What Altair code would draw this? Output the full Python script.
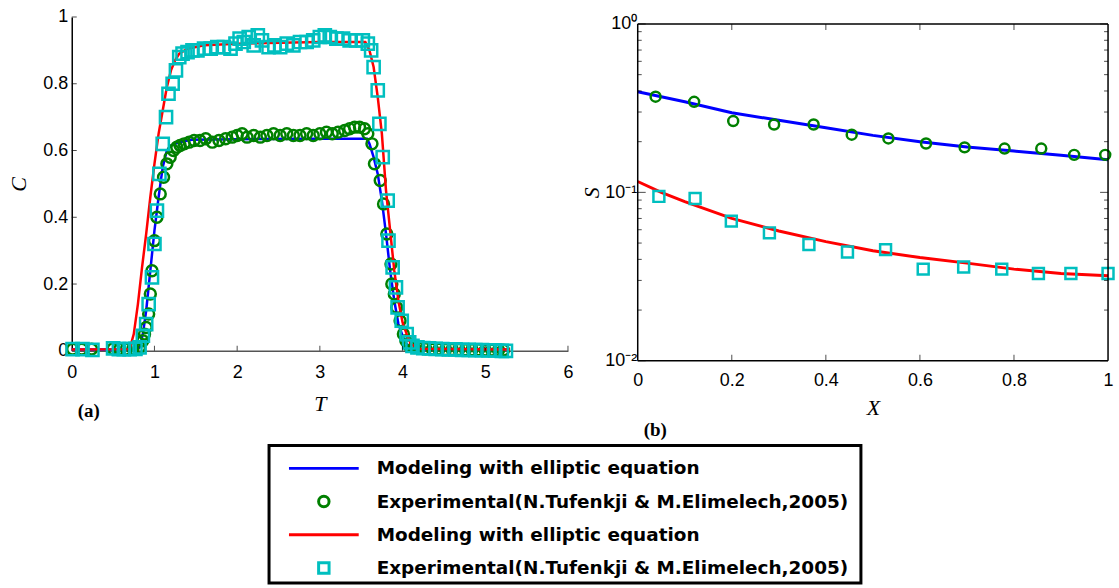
import altair as alt
import pandas as pd

# ---------------- Panel (a) data ----------------
blue_T = [0.0, 0.75, 0.82, 0.86, 0.9, 0.95, 1.0, 1.05, 1.1, 1.15, 1.2, 1.3, 1.45, 2.0, 3.0, 3.57,
          3.6, 3.65, 3.7, 3.75, 3.8, 3.85, 3.9, 3.95, 4.0, 4.05, 4.1, 4.2, 5.3]
blue_C = [0.004, 0.004, 0.01, 0.05, 0.12, 0.24, 0.36, 0.46, 0.55, 0.6, 0.615, 0.625, 0.632, 0.634, 0.635, 0.635,
          0.62, 0.58, 0.53, 0.45, 0.35, 0.24, 0.15, 0.08, 0.045, 0.02, 0.008, 0.004, 0.004]

red_T = [0.0, 0.7, 0.75, 0.8, 0.85, 0.9, 0.95, 1.0, 1.05, 1.1, 1.15, 1.2, 1.25, 1.3, 1.4, 1.6, 2.0, 3.0, 3.55,
         3.6, 3.65, 3.7, 3.75, 3.8, 3.85, 3.9, 3.95, 4.0, 4.05, 4.1, 4.2, 5.3]
red_C = [0.004, 0.005, 0.05, 0.14, 0.25, 0.35, 0.46, 0.56, 0.65, 0.72, 0.79, 0.84, 0.87, 0.89, 0.905, 0.915, 0.92, 0.925, 0.925,
         0.9, 0.85, 0.76, 0.65, 0.48, 0.36, 0.24, 0.15, 0.085, 0.05, 0.02, 0.006, 0.004]

circ_T = [0.01, 0.12, 0.24, 0.5, 0.58, 0.66, 0.74, 0.82, 0.86, 0.88, 0.9, 0.93, 0.95, 0.97, 1.0, 1.03, 1.07,
          1.11, 1.15, 1.19, 1.23, 1.27, 1.31, 1.36, 1.42, 1.48, 1.55, 1.62, 1.7, 1.78, 1.86, 1.94, 2.0,
          2.06, 2.12, 2.2, 2.28, 2.36, 2.44, 2.52, 2.6, 2.68, 2.76, 2.84, 2.92, 3.0, 3.08, 3.15, 3.22,
          3.3, 3.36, 3.42, 3.48, 3.54, 3.58, 3.63, 3.66, 3.73, 3.77, 3.81, 3.86, 3.87, 3.9, 3.93, 3.97,
          4.01, 4.04, 4.08, 4.14, 4.2, 4.28, 4.36, 4.44, 4.52, 4.6, 4.68, 4.76, 4.84, 4.92, 5.0, 5.08,
          5.16, 5.22]
circ_C = [0.005, 0.005, 0.005, 0.006, 0.005, 0.005, 0.006, 0.01, 0.03, 0.05, 0.07, 0.11, 0.17, 0.24, 0.33, 0.4, 0.47,
          0.52, 0.56, 0.58, 0.6, 0.61, 0.615, 0.62, 0.625, 0.63, 0.63, 0.635, 0.625, 0.63, 0.635, 0.64, 0.645,
          0.65, 0.64, 0.645, 0.64, 0.645, 0.65, 0.645, 0.65, 0.645, 0.645, 0.65, 0.645, 0.65, 0.655, 0.65, 0.655,
          0.66, 0.665, 0.67, 0.67, 0.665, 0.65, 0.62, 0.56, 0.51, 0.44, 0.35, 0.26, 0.2, 0.17, 0.13, 0.09,
          0.05, 0.03, 0.015, 0.01, 0.008, 0.006, 0.005, 0.005, 0.004, 0.004, 0.004, 0.003, 0.003, 0.003, 0.002, 0.002,
          0.002, 0.002]

sq_T = [0.01, 0.13, 0.25, 0.5, 0.57, 0.63, 0.7, 0.77, 0.82, 0.86, 0.9, 0.93, 0.97, 1.0, 1.03, 1.06, 1.1,
        1.14, 1.17, 1.22, 1.26, 1.3, 1.34, 1.4, 1.46, 1.52, 1.6, 1.68, 1.76, 1.84, 1.92, 1.98, 2.03,
        2.08, 2.14, 2.2, 2.25, 2.3, 2.38, 2.45, 2.52, 2.6, 2.68, 2.76, 2.84, 2.92, 3.0, 3.06, 3.12,
        3.2, 3.28, 3.36, 3.44, 3.52, 3.58, 3.62, 3.65, 3.7, 3.72, 3.76, 3.82, 3.83, 3.88, 3.92, 3.94,
        3.99, 4.05, 4.08, 4.12, 4.18, 4.25, 4.32, 4.4, 4.48, 4.56, 4.64, 4.72, 4.8, 4.88, 4.96, 5.04,
        5.12, 5.2, 5.25]
sq_C = [0.005, 0.005, 0.003, 0.007, 0.005, 0.005, 0.005, 0.006, 0.01, 0.045, 0.08, 0.14, 0.22, 0.32, 0.42, 0.53, 0.62,
        0.7, 0.77, 0.8, 0.84, 0.88, 0.89, 0.895, 0.9, 0.9, 0.905, 0.905, 0.91, 0.91, 0.905, 0.92, 0.935,
        0.925, 0.94, 0.915, 0.945, 0.93, 0.91, 0.915, 0.91, 0.92, 0.915, 0.925, 0.925, 0.93, 0.94, 0.945, 0.94,
        0.935, 0.935, 0.93, 0.93, 0.93, 0.92, 0.9, 0.85, 0.78, 0.68, 0.58, 0.45, 0.33, 0.25, 0.19, 0.13,
        0.09, 0.05, 0.025, 0.015, 0.01, 0.008, 0.007, 0.006, 0.005, 0.004, 0.004, 0.003, 0.003, 0.002, 0.002, 0.001,
        0.001, 0.0, 0.0]

a_xticks = [0, 1, 2, 3, 4, 5, 6]
a_yticks = [0, 0.2, 0.4, 0.6, 0.8, 1.0]

# ---------------- Panel (b) data ----------------
b_blue_X = [0.0, 0.1, 0.2, 0.3, 0.4, 0.5, 0.6, 0.7, 0.8, 0.9, 1.0]
b_blue_S = [0.396, 0.345, 0.297, 0.268, 0.242, 0.218, 0.200, 0.186, 0.176, 0.166, 0.156]
b_red_X = [0.0, 0.05, 0.1, 0.2, 0.3, 0.4, 0.5, 0.6, 0.7, 0.8, 0.9, 1.0]
b_red_S = [0.116, 0.100, 0.088, 0.070, 0.059, 0.051, 0.045, 0.041, 0.038, 0.035, 0.033, 0.032]
b_circ_X = [0.038, 0.12, 0.203, 0.29, 0.374, 0.455, 0.533, 0.613, 0.695, 0.78, 0.858, 0.928, 0.994]
b_circ_S = [0.37, 0.345, 0.265, 0.253, 0.253, 0.22, 0.209, 0.195, 0.185, 0.182, 0.182, 0.167, 0.167]
b_sq_X = [0.045, 0.122, 0.199, 0.28, 0.364, 0.446, 0.527, 0.607, 0.693, 0.774, 0.852, 0.921, 1.0]
b_sq_S = [0.0946, 0.092, 0.0675, 0.0575, 0.049, 0.0442, 0.0457, 0.035, 0.036, 0.035, 0.033, 0.033, 0.033]

b_xticks = [0, 0.2, 0.4, 0.6, 0.8, 1.0]
b_inner_xticks = [0.2, 0.4, 0.6, 0.8]
b_yticks_major = [0.01, 0.1, 1.0]
b_yticks_minor = [0.02, 0.03, 0.04, 0.05, 0.06, 0.07, 0.08, 0.09,
                  0.2, 0.3, 0.4, 0.5, 0.6, 0.7, 0.8, 0.9]
b_xdomain = [0, 1]
b_ydomain = [0.01, 1.0]

# ---------------- Legend data ----------------
legend_labels = ["Modeling with elliptic equation",
                 "Experimental(N.Tufenkji & M.Elimelech,2005)",
                 "Modeling with elliptic equation",
                 "Experimental(N.Tufenkji & M.Elimelech,2005)"]
legend_kind = ["line", "point", "line", "point"]
legend_colors = ["#0000ff", "#008000", "#ff0000", "#00bfbf"]
legend_shapes = ["circle", "circle", "circle", "square"]

BLUE, RED, GREEN, CYAN = "#0000ff", "#ff0000", "#008000", "#00bfbf"
TICKFONT = "Liberation Sans Narrow, Liberation Sans, Arial"
TITLEFONT = "Liberation Serif, Times New Roman, serif"

# ---------------- Panel (a) ----------------
AW, AH = 498, 335
xa = alt.Scale(domain=[0, 6], nice=False, padding=0)
ya = alt.Scale(domain=[0, 1], nice=False, padding=0)

xa_axis = alt.Axis(values=a_xticks, format="d", grid=False, ticks=False, domainColor="#555555", domainWidth=1.5,
                   labelFlush=False, labelFont=TICKFONT, labelFontSize=18, labelColor="#000", labelPadding=13,
                   title="T", titleFont=TITLEFONT, titleFontStyle="italic", titleFontWeight="normal",
                   titleFontSize=22, titlePadding=12, titleColor="#000")
ya_axis = alt.Axis(values=a_yticks, grid=False, ticks=False, domainColor="#000", domainWidth=1.5,
                   labelFlush=False,
                   labelExpr="datum.value == 0 ? '0' : datum.value == 1 ? '1' : format(datum.value, '.1f')",
                   labelFont=TICKFONT, labelFontSize=18, labelColor="#000", labelPadding=4,
                   title="C", titleFont=TITLEFONT, titleFontStyle="italic", titleFontWeight="normal",
                   titleFontSize=22, titlePadding=12, titleColor="#000")

df_ab = pd.DataFrame({"T": blue_T, "C": blue_C})
df_ar = pd.DataFrame({"T": red_T, "C": red_C})
df_ac = pd.DataFrame({"T": circ_T, "C": circ_C})
df_as = pd.DataFrame({"T": sq_T, "C": sq_C})

a_blue = alt.Chart(df_ab).mark_line(color=BLUE, strokeWidth=2.5).encode(
    x=alt.X("T:Q", scale=xa, axis=xa_axis), y=alt.Y("C:Q", scale=ya, axis=ya_axis))
a_circ = alt.Chart(df_ac).mark_point(shape="circle", color=GREEN, filled=False, strokeWidth=2.5, size=120, opacity=1).encode(
    x=alt.X("T:Q", scale=xa), y=alt.Y("C:Q", scale=ya))
a_red = alt.Chart(df_ar).mark_line(color=RED, strokeWidth=2.5).encode(
    x=alt.X("T:Q", scale=xa), y=alt.Y("C:Q", scale=ya))
a_sq = alt.Chart(df_as).mark_point(shape="square", color=CYAN, filled=False, strokeWidth=2.5, size=150, opacity=1).encode(
    x=alt.X("T:Q", scale=xa), y=alt.Y("C:Q", scale=ya))
a_xt = alt.Chart(pd.DataFrame({"v": a_xticks[1:]})).mark_tick(orient="vertical", color="#000", size=5, thickness=1).encode(
    x=alt.X("v:Q", scale=xa), y=alt.value(AH - 2.5))
a_yt = alt.Chart(pd.DataFrame({"v": a_yticks[1:]})).mark_tick(orient="horizontal", color="#000", size=5, thickness=1).encode(
    y=alt.Y("v:Q", scale=ya), x=alt.value(2.5))
a_lab = alt.Chart(pd.DataFrame({"t": ["(a)"]})).mark_text(
    font=TITLEFONT, fontSize=19, fontWeight="bold", align="left", baseline="middle", color="#000").encode(
    x=alt.value(6), y=alt.value(AH + 60), text="t:N")

panel_a = alt.layer(a_blue, a_circ, a_red, a_sq, a_xt, a_yt, a_lab).properties(
    width=AW, height=AH, view=alt.ViewBackground(stroke=None))

# ---------------- Panel (b) ----------------
BW, BH, BTOP = 472, 338, 7
BHT = BH + BTOP
xb = alt.Scale(domain=b_xdomain, nice=False, padding=0)
yb = alt.Scale(type="log", domain=b_ydomain, nice=False, padding=0, range=[BHT, BTOP])

xb_axis = alt.Axis(values=b_xticks, grid=False, ticks=False, domain=False, labelFlush=False,
                   labelFont=TICKFONT, labelFontSize=18, labelColor="#000", labelPadding=11,
                   labelExpr="datum.value == 0 ? '0' : datum.value == 1 ? '1' : format(datum.value, '.1f')",
                   title="X", titleFont=TITLEFONT, titleFontStyle="italic", titleFontWeight="normal",
                   titleFontSize=22, titlePadding=8, titleColor="#000")
yb_axis = alt.Axis(values=b_yticks_major, grid=False, ticks=False, domain=False, labelFlush=False,
                   labelFont=TICKFONT, labelFontSize=18, labelColor="#000", labelPadding=1,
                   labelExpr="datum.value >= 1 ? '10⁰' : datum.value >= 0.1 ? '10⁻¹' : '10⁻²'",
                   title="S", titleFont=TITLEFONT, titleFontStyle="italic", titleFontWeight="normal",
                   titleFontSize=22, titleX=-34, titleColor="#000")

df_bb = pd.DataFrame({"X": b_blue_X, "S": b_blue_S})
df_br = pd.DataFrame({"X": b_red_X, "S": b_red_S})
df_bc = pd.DataFrame({"X": b_circ_X, "S": b_circ_S})
df_bs = pd.DataFrame({"X": b_sq_X, "S": b_sq_S})

b_blue = alt.Chart(df_bb).mark_line(color=BLUE, strokeWidth=3).encode(
    x=alt.X("X:Q", scale=xb, axis=xb_axis), y=alt.Y("S:Q", scale=yb, axis=yb_axis))
b_circ = alt.Chart(df_bc).mark_point(shape="circle", color=GREEN, filled=False, strokeWidth=2.5, size=100, opacity=1).encode(
    x=alt.X("X:Q", scale=xb), y=alt.Y("S:Q", scale=yb))
b_red = alt.Chart(df_br).mark_line(color=RED, strokeWidth=3).encode(
    x=alt.X("X:Q", scale=xb), y=alt.Y("S:Q", scale=yb))
b_sq = alt.Chart(df_bs).mark_point(shape="square", color=CYAN, filled=False, strokeWidth=2.5, size=120, opacity=1).encode(
    x=alt.X("X:Q", scale=xb), y=alt.Y("S:Q", scale=yb))

# frame of panel (b), drawn at the ends of its domains
df_frame_h = pd.DataFrame({"y": b_ydomain})
df_frame_v = pd.DataFrame({"x": b_xdomain})
b_frame_h = alt.Chart(df_frame_h).mark_rule(color="#000", strokeWidth=1.5).encode(
    y=alt.Y("y:Q", scale=yb), x=alt.value(0), x2=alt.value(BW))
b_frame_v = alt.Chart(df_frame_v).mark_rule(color="#000", strokeWidth=1.5).encode(
    x=alt.X("x:Q", scale=xb), y=alt.value(BTOP), y2=alt.value(BHT))

df_xt = pd.DataFrame({"v": b_inner_xticks})
b_xt_bot = alt.Chart(df_xt).mark_tick(orient="vertical", color="#000", size=6, thickness=1).encode(
    x=alt.X("v:Q", scale=xb), y=alt.value(BHT - 3))
b_xt_top = alt.Chart(df_xt).mark_tick(orient="vertical", color="#000", size=6, thickness=1).encode(
    x=alt.X("v:Q", scale=xb), y=alt.value(BTOP + 3))
df_ymin = pd.DataFrame({"v": b_yticks_minor})
df_ymaj = pd.DataFrame({"v": b_yticks_major})
b_yt_l = alt.Chart(df_ymin).mark_tick(orient="horizontal", color="#000", size=4, thickness=1).encode(
    y=alt.Y("v:Q", scale=yb), x=alt.value(2))
b_yt_r = alt.Chart(df_ymin).mark_tick(orient="horizontal", color="#000", size=4, thickness=1).encode(
    y=alt.Y("v:Q", scale=yb), x=alt.value(BW - 2))
b_ytM_l = alt.Chart(df_ymaj).mark_tick(orient="horizontal", color="#000", size=8, thickness=1).encode(
    y=alt.Y("v:Q", scale=yb), x=alt.value(4))
b_ytM_r = alt.Chart(df_ymaj).mark_tick(orient="horizontal", color="#000", size=8, thickness=1).encode(
    y=alt.Y("v:Q", scale=yb), x=alt.value(BW - 4))
b_lab = alt.Chart(pd.DataFrame({"t": ["(b)"]})).mark_text(
    font=TITLEFONT, fontSize=19, fontWeight="bold", align="left", baseline="middle", color="#000").encode(
    x=alt.value(6), y=alt.value(BHT + 70), text="t:N")

panel_b = alt.layer(b_blue, b_circ, b_red, b_sq, b_frame_h, b_frame_v, b_xt_bot, b_xt_top,
                    b_yt_l, b_yt_r, b_ytM_l, b_ytM_r, b_lab).properties(
    width=BW, height=BHT, view=alt.ViewBackground(stroke=None))

# ---------------- Legend ----------------
LW, LH = 594, 138
df_leg = pd.DataFrame({"row": list(range(4)), "label": legend_labels, "kind": legend_kind,
                       "color": legend_colors, "shape": legend_shapes})
rowY = alt.Y("row:O", scale=alt.Scale(type="point", domain=[0, 1, 2, 3], range=[23, 123], padding=0), axis=None)
leg_line = alt.Chart(df_leg).transform_filter("datum.kind == 'line'").mark_rule(strokeWidth=3).encode(
    x=alt.value(20), x2=alt.value(90), y=rowY, color=alt.Color("color:N", scale=None))
leg_pt = alt.Chart(df_leg).transform_filter("datum.kind == 'point'").mark_point(
    filled=False, strokeWidth=3, size=110, opacity=1).encode(
    x=alt.value(55), y=rowY,
    color=alt.Color("color:N", scale=None), shape=alt.Shape("shape:N", scale=None))
leg_txt = alt.Chart(df_leg).mark_text(align="left", baseline="middle", font="DejaVu Sans",
                                      fontWeight="bold", fontSize=18.5, color="#000").encode(
    x=alt.value(108), y=rowY, text="label:N")
legend = alt.layer(leg_line, leg_pt, leg_txt).properties(
    width=LW, height=LH, view=alt.ViewBackground(stroke="#000", strokeWidth=3))

spacer_left = alt.Chart(pd.DataFrame({"v": [0]})).mark_rule(opacity=0).encode(
    x=alt.value(0), x2=alt.value(1), y=alt.value(0)).properties(
    width=196, height=10, view=alt.ViewBackground(stroke=None))
bottom = alt.hconcat(spacer_left, legend, spacing=0)

top = alt.hconcat(panel_a, panel_b, spacing=7)
chart = alt.vconcat(top, bottom, spacing=3).properties(
    padding={"left": 7, "top": 7, "right": 0, "bottom": 0}
).configure(background="white")

chart.save("out.html", embed_options={"renderer": "svg", "actions": False})
